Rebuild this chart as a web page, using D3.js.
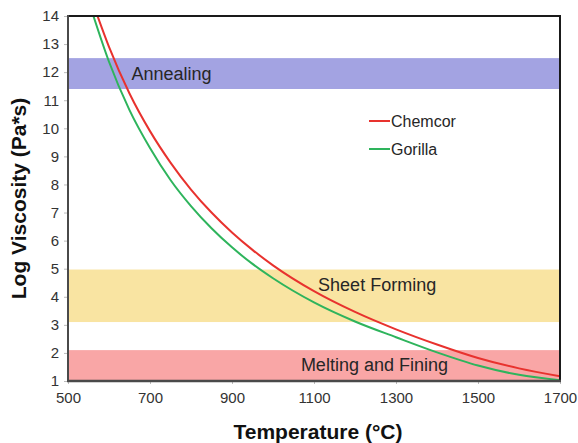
<!DOCTYPE html>
<html>
<head>
<meta charset="utf-8">
<script src="https://cdn.jsdelivr.net/npm/d3@7"></script>
<style>
  html, body { margin: 0; padding: 0; background: #ffffff; }
  svg { display: block; font-family: "Liberation Sans", Arial, Helvetica, sans-serif; }
</style>
</head>
<body>
<svg id="chart" width="578" height="443"></svg>
<script>
// ---- data ----
const chemcorTemp = [572, 600, 650, 700, 750, 800, 850, 900, 950, 1000, 1100, 1200, 1300, 1400, 1500, 1600, 1700];
const chemcorLogVisc = [14.0, 12.9, 11.24, 9.9, 8.78, 7.82, 7.0, 6.29, 5.67, 5.12, 4.2, 3.46, 2.84, 2.3, 1.82, 1.45, 1.17];
const gorillaTemp = [562, 600, 650, 700, 750, 800, 850, 900, 950, 1000, 1100, 1200, 1300, 1400, 1500, 1600, 1700];
const gorillaLogVisc = [14.0, 12.37, 10.65, 9.3, 8.16, 7.23, 6.44, 5.76, 5.17, 4.66, 3.8, 3.12, 2.56, 2.02, 1.55, 1.22, 1.03];
const bandNames = ["Annealing", "Sheet Forming", "Melting and Fining"];
const bandLow = [11.4, 3.1, 1.0];
const bandHigh = [12.5, 4.97, 2.1];
const bandLabelTemp = [655, 1110, 1068];
const bandLabelValue = [11.95, 4.42, 1.57];
const xTicks = [500, 700, 900, 1100, 1300, 1500, 1700];
const yTicks = [1, 2, 3, 4, 5, 6, 7, 8, 9, 10, 11, 12, 13, 14];
const seriesNames = ["Chemcor", "Gorilla"];

// ---- layout ----
const M = { left: 68, right: 560, top: 16, bottom: 381 };
const svg = d3.select("#chart");
const x = d3.scaleLinear().domain([500, 1700]).range([M.left, M.right]);
const y = d3.scaleLinear().domain([1, 14]).range([M.bottom, M.top]);

const bandColors = ["#a3a3e2", "#f9e4a2", "#f9a6a6"];
const lineColors = ["#e8322e", "#2eb45c"];

svg.append("defs").append("clipPath").attr("id", "plotclip")
  .append("rect").attr("x", M.left).attr("y", M.top)
  .attr("width", M.right - M.left).attr("height", M.bottom - M.top);

// bands
svg.append("g").selectAll("rect").data(bandNames).join("rect")
  .attr("x", M.left)
  .attr("width", M.right - M.left)
  .attr("y", (d, i) => y(bandHigh[i]))
  .attr("height", (d, i) => y(bandLow[i]) - y(bandHigh[i]))
  .attr("fill", (d, i) => bandColors[i]);

// band labels
svg.append("g").selectAll("text").data(bandNames).join("text")
  .attr("x", (d, i) => x(bandLabelTemp[i]))
  .attr("y", (d, i) => y(bandLabelValue[i]))
  .attr("dy", "0.35em")
  .attr("font-size", 18)
  .attr("fill", "#262626")
  .text(d => d);

// axes
const xAxis = d3.axisBottom(x).tickValues(xTicks).tickSize(3).tickPadding(8).tickFormat(d3.format("d"));
const gx = svg.append("g").attr("transform", `translate(0,${M.bottom})`).call(xAxis);
gx.select(".domain").remove();
gx.selectAll(".tick line").attr("stroke", "#bbbbbb");
gx.selectAll(".tick text").attr("font-size", 15).attr("fill", "#333333")
  .attr("font-family", "Liberation Sans, Arial, sans-serif");

const yAxis = d3.axisLeft(y).tickValues(yTicks).tickSize(4).tickPadding(5).tickFormat(d3.format("d"));
const gy = svg.append("g").attr("transform", `translate(${M.left},0)`).call(yAxis);
gy.select(".domain").remove();
gy.selectAll(".tick line").attr("stroke", "#bbbbbb");
gy.selectAll(".tick text").attr("font-size", 15).attr("fill", "#333333")
  .attr("font-family", "Liberation Sans, Arial, sans-serif");

// curves
const line = d3.line().curve(d3.curveMonotoneX).x(d => x(d[0])).y(d => y(d[1]));
const seriesData = [
  d3.zip(chemcorTemp, chemcorLogVisc),
  d3.zip(gorillaTemp, gorillaLogVisc)
];
svg.append("g").attr("clip-path", "url(#plotclip)")
  .selectAll("path").data(seriesData).join("path")
  .attr("d", d => line(d))
  .attr("fill", "none")
  .attr("stroke", (d, i) => lineColors[i])
  .attr("stroke-width", 2);

// frame: top & right black, left & bottom dark gray
svg.append("line").attr("x1", M.left).attr("x2", M.right + 1).attr("y1", M.top).attr("y2", M.top)
  .attr("stroke", "#1a1a1a").attr("stroke-width", 2);
svg.append("line").attr("x1", M.right).attr("x2", M.right).attr("y1", M.top).attr("y2", M.bottom)
  .attr("stroke", "#1a1a1a").attr("stroke-width", 2);
svg.append("line").attr("x1", M.left).attr("x2", M.left).attr("y1", M.top - 1).attr("y2", M.bottom + 1)
  .attr("stroke", "#4a4a4a").attr("stroke-width", 2);
svg.append("line").attr("x1", M.left - 1).attr("x2", M.right + 1).attr("y1", M.bottom).attr("y2", M.bottom)
  .attr("stroke", "#4a4a4a").attr("stroke-width", 2.5);

// legend
const leg = svg.append("g").attr("transform", "translate(369,121)");
seriesNames.forEach((name, i) => {
  const g = leg.append("g").attr("transform", `translate(0,${i * 28})`);
  g.append("line").attr("x1", 0).attr("x2", 21).attr("y1", 0).attr("y2", 0)
    .attr("stroke", lineColors[i]).attr("stroke-width", 2);
  g.append("text").attr("x", 22).attr("y", 0).attr("dy", "0.35em")
    .attr("font-size", 16).attr("fill", "#262626").text(name);
});

// axis titles
svg.append("text")
  .attr("x", (M.left + M.right) / 2 + 4)
  .attr("y", 439)
  .attr("text-anchor", "middle")
  .attr("font-size", 21).attr("font-weight", "bold").attr("fill", "#111111")
  .text("Temperature (°C)");
svg.append("text")
  .attr("transform", `translate(26,${(M.top + M.bottom) / 2}) rotate(-90)`)
  .attr("text-anchor", "middle")
  .attr("font-size", 21).attr("font-weight", "bold").attr("fill", "#111111")
  .text("Log Viscosity (Pa*s)");
</script>
</body>
</html>
